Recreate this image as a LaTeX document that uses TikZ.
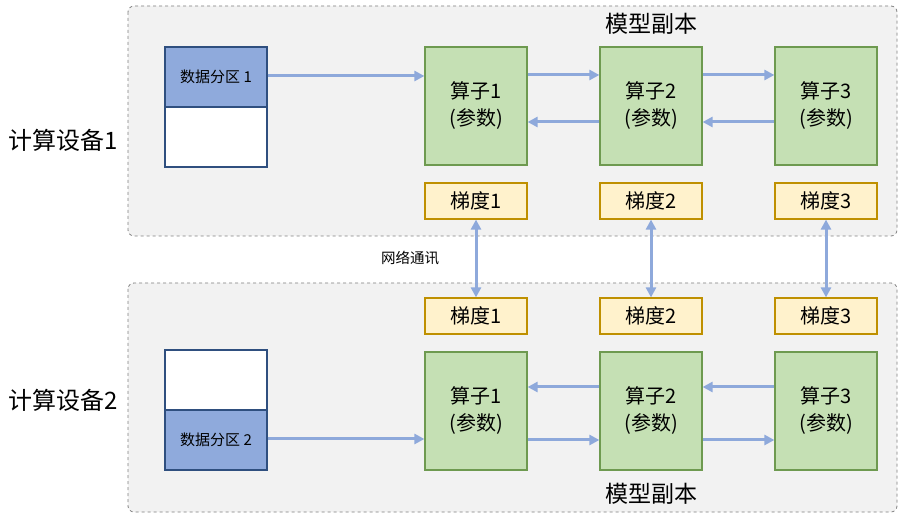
\documentclass[tikz,border=0pt]{standalone}
\usepackage{fontspec}
\setmainfont{Noto Sans CJK SC}
\usetikzlibrary{arrows.meta}
\definecolor{boxgray}{HTML}{F2F2F2}
\definecolor{dashgray}{HTML}{7F7F7F}
\definecolor{datablue}{HTML}{8FAADC}
\definecolor{databorder}{HTML}{2F4F7F}
\definecolor{opgreen}{HTML}{C5E0B4}
\definecolor{opborder}{HTML}{6E9A50}
\definecolor{gradyellow}{HTML}{FFF2CC}
\definecolor{gradborder}{HTML}{BF9000}
\definecolor{arrowblue}{HTML}{8EA9DB}
\begin{document}
\begin{tikzpicture}[x=1pt,y=-1pt,
  container/.style={draw=dashgray,dashed,fill=boxgray,rounded corners=6pt,line width=0.8pt},
  databox/.style={draw=databorder,line width=1.2pt,minimum width=102pt,minimum height=60pt,inner sep=0pt,font=\fontsize{15}{18}\selectfont},
  opbox/.style={draw=opborder,fill=opgreen,line width=1.2pt,minimum width=102pt,minimum height=118pt,inner sep=0pt,align=center,font=\fontsize{20}{27}\selectfont},
  gradbox/.style={draw=gradborder,fill=gradyellow,line width=1.2pt,minimum width=102pt,minimum height=36pt,inner sep=0pt,font=\fontsize{20}{24}\selectfont},
  conn/.style={draw=arrowblue,line width=3pt,-{Triangle[length=10pt,width=10pt]}},
  biconn/.style={draw=arrowblue,line width=3pt,{Triangle[length=10pt,width=10pt]}-{Triangle[length=10pt,width=10pt]}},
  devlabel/.style={font=\fontsize{24}{28}\selectfont},
  replabel/.style={font=\fontsize{23}{26}\selectfont}
]
\useasboundingbox (0,0) rectangle (903,521);
% containers
\draw[container] (128,6) rectangle (897,236);
\draw[container] (128,283) rectangle (897,512);
% labels
\node[devlabel] (dev1) at (63,140) {计算设备1};
\node[devlabel] (dev2) at (63,400) {计算设备2};
\node[replabel] (rep1) at (651,24) {模型副本};
\node[replabel] (rep2) at (651,494) {模型副本};
\node[font=\fontsize{14.5}{17}\selectfont] (net) at (410,258) {网络通讯};
% top device
\node[databox,fill=datablue] (d1) at (216,77) {数据分区 1};
\node[databox,fill=white] (d1b) at (216,137) {};
\node[opbox] (a1) at (476,106) {算子1\\(参数)};
\node[opbox] (a2) at (651,106) {算子2\\(参数)};
\node[opbox] (a3) at (826,106) {算子3\\(参数)};
\node[gradbox] (g1) at (476,201) {梯度1};
\node[gradbox] (g2) at (651,201) {梯度2};
\node[gradbox] (g3) at (826,201) {梯度3};
% bottom device
\node[databox,fill=white] (d2b) at (216,380) {};
\node[databox,fill=datablue] (d2) at (216,440) {数据分区 2};
\node[opbox] (b1) at (476,411) {算子1\\(参数)};
\node[opbox] (b2) at (651,411) {算子2\\(参数)};
\node[opbox] (b3) at (826,411) {算子3\\(参数)};
\node[gradbox] (h1) at (476,316) {梯度1};
\node[gradbox] (h2) at (651,316) {梯度2};
\node[gradbox] (h3) at (826,316) {梯度3};
% top arrows
\draw[conn] ([yshift=1pt]d1.east) -- ([yshift=1pt]d1.east -| a1.west);
\draw[conn] ([yshift=31pt]a1.east) -- ([yshift=31pt]a2.west);
\draw[conn] ([yshift=31pt]a2.east) -- ([yshift=31pt]a3.west);
\draw[conn] ([yshift=-16pt]a2.west) -- ([yshift=-16pt]a1.east);
\draw[conn] ([yshift=-16pt]a3.west) -- ([yshift=-16pt]a2.east);
% bottom arrows
\draw[conn] ([yshift=1pt]d2.east) -- ([yshift=1pt]d2.east -| b1.west);
\draw[conn] ([yshift=-29pt]b1.east) -- ([yshift=-29pt]b2.west);
\draw[conn] ([yshift=-29pt]b2.east) -- ([yshift=-29pt]b3.west);
\draw[conn] ([yshift=24pt]b2.west) -- ([yshift=24pt]b1.east);
\draw[conn] ([yshift=24pt]b3.west) -- ([yshift=24pt]b2.east);
% network
\draw[biconn] (g1.south) -- (h1.north);
\draw[biconn] (g2.south) -- (h2.north);
\draw[biconn] (g3.south) -- (h3.north);
\end{tikzpicture}
\end{document}
